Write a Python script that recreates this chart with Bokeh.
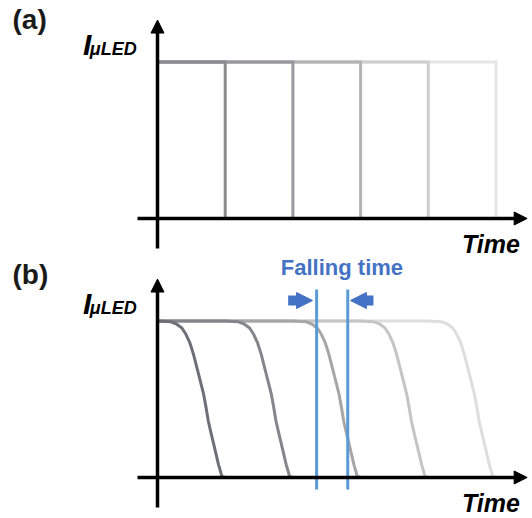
from bokeh.plotting import figure
from bokeh.models import Range1d, Label, Arrow, NormalHead
from bokeh.embed import file_html
from bokeh.resources import INLINE

# ---------------- data ----------------
# (a) square pulses: switch-off times and grey levels
pulse_end_times = [1, 2, 3, 4, 5]
pulse_level = 1.0
pulse_colors = ["#8b8b90", "#98989d", "#b3b3b5", "#cfcfcf", "#e5e5e5"]

# (b) falling curves: each curve reaches zero at its end time
fall_end_times = [1, 2, 3, 4, 5]
# falling profile (time offset before end, level)
fall_profile_dt = [-1.00, -0.81, -0.72, -0.64, -0.58, -0.52, -0.47, -0.42, -0.37,
                   -0.32, -0.28, -0.25, -0.21, -0.17, -0.13, -0.10, -0.07, -0.05, 0.0]
fall_profile_level = [1.00, 0.996, 0.981, 0.955, 0.915, 0.858, 0.79, 0.705, 0.62,
                      0.535, 0.44, 0.361, 0.285, 0.213, 0.14, 0.084, 0.04, 0.006, 0.0]
curve_colors = ["#6f6f78", "#85858c", "#a6a6a8", "#c5c5c5", "#dedede"]

# falling-time markers
falling_marker_times = [2.35, 2.81]

X_LABEL = "Time"
Y_LABEL_MAIN = "I"
Y_LABEL_SUB = "\u03bcLED"
PANEL_LABELS = ["(a)", "(b)"]
MARKER_LABEL = "Falling time"

FONT = "Liberation Sans"
W, H = 532, 518

p = figure(width=W, height=H, x_range=Range1d(-2.319, 5.539),
           y_range=Range1d(-1.917, 1.393),
           output_backend="svg", toolbar_location=None, min_border=0)
p.extra_y_ranges = {"b": Range1d(-0.262, 3.048)}
p.axis.visible = False
p.grid.visible = False
p.outline_line_color = None
p.background_fill_color = "white"
p.border_fill_color = "white"


def add_axes(rng, panel_label, label_y):
    p.add_layout(Arrow(end=NormalHead(size=13, fill_color="black", line_color="black", line_width=1),
                       x_start=0, y_start=-0.192, x_end=0, y_end=1.268, y_range_name=rng,
                       line_width=3.5, line_color="black"))
    p.add_layout(Arrow(end=NormalHead(size=13, fill_color="black", line_color="black", line_width=1),
                       x_start=-0.295, y_start=0, x_end=5.46, y_end=0, y_range_name=rng,
                       line_width=3.5, line_color="black"))
    p.add_layout(Label(x=4.925, y=-0.160, text=X_LABEL, text_font=FONT, text_font_size="25px",
                       text_font_style="bold italic", text_align="center", y_range_name=rng,
                       text_baseline="middle", text_color="black"))
    p.add_layout(Label(x=-1.10, y=1.115, text=Y_LABEL_MAIN, text_font=FONT, text_font_size="30px",
                       text_font_style="bold italic", text_align="left", y_range_name=rng,
                       text_baseline="middle", text_color="black"))
    p.add_layout(Label(x=-1.000, y=1.080, text=Y_LABEL_SUB, text_font=FONT, text_font_size="18px",
                       text_font_style="bold italic", text_align="left", y_range_name=rng,
                       text_baseline="middle", text_color="black"))
    p.add_layout(Label(x=-2.142, y=label_y, text=panel_label, text_font=FONT,
                       text_font_size="28px", text_font_style="bold", text_align="left",
                       y_range_name=rng, text_baseline="middle", text_color="#1a1a1a"))


# ---------------- panel (a) ----------------
for t_end, col in reversed(list(zip(pulse_end_times, pulse_colors))):
    p.line([0, t_end, t_end], [pulse_level, pulse_level, 0], line_color=col,
           line_width=3, line_join="miter")
add_axes("default", PANEL_LABELS[0], 1.272)

# ---------------- panel (b) ----------------
for t_end, col in reversed(list(zip(fall_end_times, curve_colors))):
    xs = [0] + [t_end + d for d in fall_profile_dt]
    ys = [fall_profile_level[0]] + fall_profile_level
    p.line(xs, ys, line_color=col, line_width=3, line_join="round", y_range_name="b")

for tm in falling_marker_times:
    p.line([tm, tm], [-0.077, 1.201], line_color="#5b9bd5", line_width=3, y_range_name="b")

p.add_layout(Arrow(end=NormalHead(size=16, fill_color="#4472c4", line_color="#4472c4", line_width=1),
                   x_start=1.93, y_start=1.131, x_end=2.29, y_end=1.131, y_range_name="b",
                   line_width=10, line_color="#4472c4"))
p.add_layout(Arrow(end=NormalHead(size=16, fill_color="#4472c4", line_color="#4472c4", line_width=1),
                   x_start=3.19, y_start=1.131, x_end=2.85, y_end=1.131, y_range_name="b",
                   line_width=10, line_color="#4472c4"))
p.add_layout(Label(x=2.724, y=1.342, text=MARKER_LABEL, text_font=FONT, text_font_size="22px",
                   text_font_style="bold", text_align="center", text_baseline="middle",
                   y_range_name="b", text_color="#4472c4"))
add_axes("b", PANEL_LABELS[1], 1.300)

open("out.html", "w").write(file_html(p, INLINE))
